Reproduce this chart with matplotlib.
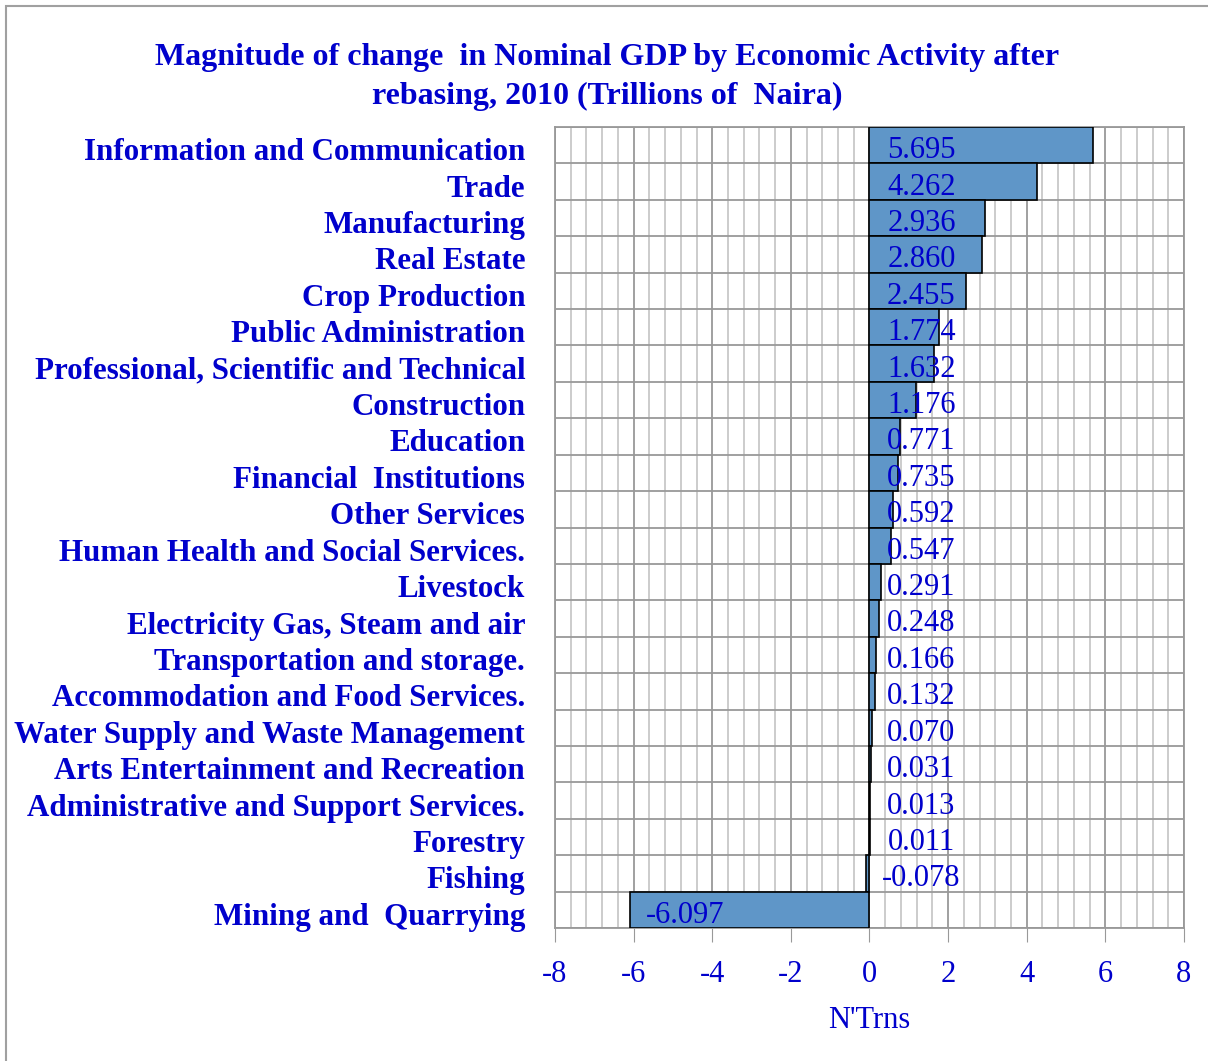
import matplotlib.pyplot as plt
from matplotlib.patches import Rectangle
from matplotlib.ticker import MultipleLocator
from matplotlib.transforms import ScaledTranslation

# Magnitude of change in nominal GDP after rebasing, 2010 (trillions of Naira)
sectors = [
    "Information and Communication", "Trade", "Manufacturing", "Real Estate",
    "Crop Production", "Public Administration",
    "Professional, Scientific and Technical", "Construction", "Education",
    "Financial  Institutions", "Other Services",
    "Human Health and Social Services.", "Livestock",
    "Electricity Gas, Steam and air", "Transportation and storage.",
    "Accommodation and Food Services.", "Water Supply and Waste Management",
    "Arts Entertainment and Recreation", "Administrative and Support Services.",
    "Forestry", "Fishing", "Mining and  Quarrying",
]
change = [5.695, 4.262, 2.936, 2.860, 2.455, 1.774, 1.632, 1.176, 0.771,
          0.735, 0.592, 0.547, 0.291, 0.248, 0.166, 0.132, 0.070, 0.031,
          0.013, 0.011, -0.078, -6.097]

blue = "#0000CC"
serif = ["Liberation Serif", "DejaVu Serif"]
plt.rcParams['font.family'] = serif
plt.rcParams['axes.unicode_minus'] = False

fig = plt.figure(figsize=(12.08, 10.61), dpi=100)
ax = fig.add_axes([555/1208, 1-928/1061, 629/1208, 801/1061])

y = list(range(len(sectors)))
ax.barh(y, change, height=1.0, color="#5F96C8", edgecolor="black",
        linewidth=1.2, zorder=3)
ax.set_ylim(len(sectors) - 0.5, -0.5)
ax.set_xlim(-8, 8)

ax.xaxis.set_major_locator(MultipleLocator(2))
ax.xaxis.set_minor_locator(MultipleLocator(0.4))
ax.set_yticks([i - 0.5 for i in y] + [len(sectors) - 0.5], minor=True)
ax.set_yticks(y)
ax.set_yticklabels(sectors, fontsize=22.3, fontweight='bold', color=blue)
ax.tick_params(axis='y', which='both', length=0, pad=21.5)
ax.tick_params(axis='x', which='major', length=10, direction='out',
               color="#999999", labelsize=22, labelcolor=blue, pad=13)
ax.tick_params(axis='x', which='minor', length=0)

# nudge category labels down a little
shift = ScaledTranslation(0, -4/100, fig.dpi_scale_trans)
for lab in ax.get_yticklabels():
    lab.set_transform(lab.get_transform() + shift)

ax.grid(True, axis='x', which='major', color="#999999", lw=1.3, zorder=1)
ax.grid(True, axis='x', which='minor', color="#C8C8C8", lw=1.3, zorder=1)
ax.grid(True, axis='y', which='minor', color="#999999", lw=1.3, zorder=1)
for s in ax.spines.values():
    s.set_color("#999999")
    s.set_linewidth(1.3)

for i, v in enumerate(change):
    xpos = 1.32 if v > -1 else v + 1.4
    ax.text(xpos, i + 0.15, f"{v:.3f}", ha='center', va='center', fontsize=22,
            color=blue, zorder=4)

ax.set_xlabel("N'Trns", fontsize=22, color=blue, labelpad=12)

fig.text(607/1208, 1-57/1061,
         "Magnitude of change  in Nominal GDP by Economic Activity after",
         ha='center', va='center', fontsize=23, fontweight='bold', color=blue)
fig.text(607/1208, 1-96/1061,
         "rebasing, 2010 (Trillions of  Naira)",
         ha='center', va='center', fontsize=23, fontweight='bold', color=blue)

fig.patches.append(Rectangle((6/1208, -0.1), 1.2, 1 - 6/1061 + 0.1,
                             transform=fig.transFigure, fill=False,
                             edgecolor="#A0A0A0", lw=1.5))

fig.savefig("out.png", dpi=100)
